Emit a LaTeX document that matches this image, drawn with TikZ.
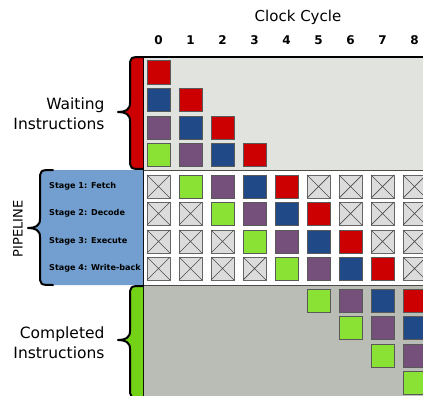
\documentclass[tikz,border=0pt]{standalone}
\usepackage{fontspec}
\setmainfont{DejaVu Sans}
\usepackage{tikz}

\definecolor{instred}{HTML}{CC0000}
\definecolor{instblue}{HTML}{204A87}
\definecolor{instpurple}{HTML}{75507B}
\definecolor{instgreen}{HTML}{8AE234}
\definecolor{bargreen}{HTML}{73D216}
\definecolor{stageblue}{HTML}{729FCF}
\definecolor{waitgray}{HTML}{E1E3DE}
\definecolor{donegray}{HTML}{BABDB6}
\definecolor{idlegray}{HTML}{DCDCDC}
\colorlet{inst0}{instgreen}
\colorlet{inst1}{instpurple}
\colorlet{inst2}{instblue}
\colorlet{inst3}{instred}

\tikzset{
  cell/.style={draw=black!65, line width=1pt},
  idle/.style={draw=black!60, fill=idlegray, line width=1pt},
  bracket/.style={draw=black, line width=2pt, line cap=round, line join=round},
  heading/.style={font=\fontsize{15}{17}\selectfont},
  cycnum/.style={font=\bfseries\fontsize{12}{14}\selectfont},
  sidelabel/.style={font=\fontsize{15.5}{20}\selectfont, align=right, anchor=east},
  stagelabel/.style={font=\bfseries\fontsize{8.1}{10}\selectfont, anchor=west, inner sep=1pt},
}

% #1 = x of the spine, #2 = top, #3 = tip, #4 = bottom
\newcommand{\bracepath}[4]{(#1+13,#2) .. controls (#1,#2) .. (#1,#2+11) -- (#1,#3-9) .. controls (#1,#3-2) and (#1-5,#3) .. (#1-12,#3) .. controls (#1-5,#3) and (#1,#3+2) .. (#1,#3+9) -- (#1,#4-11) .. controls (#1,#4) .. (#1+13,#4)}

\begin{document}
\begin{tikzpicture}[x=1pt, y=-1pt]
    \useasboundingbox (0,0) rectangle (423,396);
    \clip (0,0) rectangle (423,396);

    % draw the three areas
    \fill[waitgray] (143,57) rectangle (440,170);
    \fill[white] (143,170) rectangle (440,285);
    \fill[donegray] (143,285) rectangle (440,410);
    \draw[black!70, line width=0.8pt] (143,170) -- (440,170);
    \draw[black!70, line width=0.8pt] (143,285) -- (440,285);
    \draw[line width=1.2pt] (440,57) -- (143,57) -- (143,410);

    % draw braces
    \fill[instred] \bracepath{130}{57}{112}{169} -- (143,169) -- (143,57) -- cycle;
    \draw[bracket] \bracepath{130}{57}{112}{169};
    \fill[stageblue] \bracepath{40}{170}{228}{285} -- (143,285) -- (143,170) -- cycle;
    \draw[bracket] \bracepath{40}{170}{228}{285};
    \fill[bargreen] \bracepath{130}{286}{340}{398} -- (143,398) -- (143,286) -- cycle;
    \draw[bracket] \bracepath{130}{286}{340}{398};

    % draw waiting instructions
    \foreach \r/\y in {0/61, 1/88, 2/116, 3/143}
      \foreach \c in {0,...,3} {
        \pgfmathtruncatemacro{\k}{3-\r+\c}
        \ifnum\c>\r\else
          \filldraw[cell, fill=inst\k] (147+32*\c,\y) rectangle ++(23,23);
        \fi
      }

    % draw pipeline
    \foreach \r/\y in {0/175, 1/202, 2/230, 3/257}
      \foreach \c in {0,...,8} {
        \pgfmathtruncatemacro{\k}{\c-\r-1}
        \ifnum\k<0
          \filldraw[idle] (147+32*\c,\y) rectangle ++(23,23);
          \draw[black!70, line width=0.7pt] (147+32*\c,\y) -- ++(23,23) (170+32*\c,\y) -- ++(-23,23);
        \else\ifnum\k>3
          \filldraw[idle] (147+32*\c,\y) rectangle ++(23,23);
          \draw[black!70, line width=0.7pt] (147+32*\c,\y) -- ++(23,23) (170+32*\c,\y) -- ++(-23,23);
        \else
          \filldraw[cell, fill=inst\k] (147+32*\c,\y) rectangle ++(23,23);
        \fi\fi
      }

    % draw completed instructions
    \foreach \r/\y in {0/289, 1/316, 2/344, 3/371}
      \foreach \c in {5,...,8} {
        \pgfmathtruncatemacro{\k}{\c-5-\r}
        \ifnum\k<0\else
          \filldraw[cell, fill=inst\k] (147+32*\c,\y) rectangle ++(23,23);
        \fi
      }

    % draw labels
    \node[heading] (clock) at (298,17) {Clock Cycle};
    \foreach \c in {0,...,8}
      \node[cycnum] (cyc\c) at (158.5+32*\c,40) {\c};
    \node[sidelabel] (waiting) at (108,114) {Waiting\\Instructions};
    \node[sidelabel] (completed) at (108,343) {Completed\\Instructions};
    \node[stagelabel] (stage1) at (48,186.5) {Stage 1: Fetch};
    \node[stagelabel] (stage2) at (48,213.5) {Stage 2: Decode};
    \node[stagelabel] (stage3) at (48,241.5) {Stage 3: Execute};
    \node[stagelabel] (stage4) at (48,268.5) {Stage 4: Write-back};
    \node[rotate=90, font=\fontsize{13}{15}\selectfont] (pipeline) at (18,229) {PIPELINE};

\end{tikzpicture}
\end{document}
